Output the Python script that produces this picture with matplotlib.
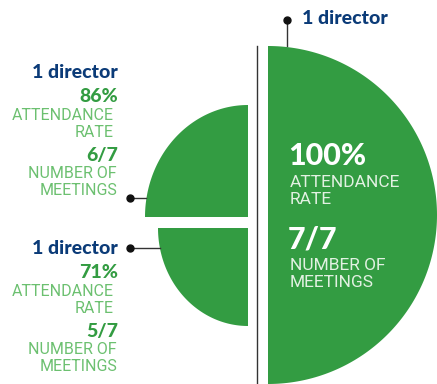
import numpy as np
import matplotlib
matplotlib.use("Agg")
import matplotlib.pyplot as plt
from matplotlib.patches import Polygon

# ---- data ----
directors = ["1 director", "1 director", "1 director"]
rates = ["100%", "86%", "71%"]
meetings = ["7/7", "6/7", "5/7"]
rate_label = "ATTENDANCE\nRATE"
meet_label = "NUMBER OF\nMEETINGS"

GREEN = "#339c42"
NAVY = "#0b3b78"
LIGHT = "#6cc070"
LINE = "#333333"

W, H = 437, 384
fig = plt.figure(figsize=(W / 100, H / 100), dpi=100)
ax = fig.add_axes([0, 0, 1, 1])
ax.set_xlim(0, W)
ax.set_ylim(H, 0)
ax.axis("off")


def ell_wedge(cx, cy, rx, ry, a0, a1, **kw):
    t = np.radians(np.linspace(a0, a1, 200))
    pts = np.column_stack([cx + rx * np.cos(t), cy - ry * np.sin(t)])
    pts = np.vstack([[cx, cy], pts])
    ax.add_patch(Polygon(pts, closed=True, lw=0, **kw))


# big semicircle (right half)
ell_wedge(268, 215, 169, 169, -90, 90, color=GREEN)
# top-left quarter
ell_wedge(248, 217, 103, 112, 90, 180, color=GREEN)
# bottom-left quarter
ell_wedge(248, 228, 90, 98, 180, 270, color=GREEN)

# vertical line
ax.plot([257, 257], [46, 384], color=LINE, lw=1.0)

# connectors
ax.plot([287, 287], [20, 46], color=LINE, lw=1.0)
ax.plot([287], [20], "o", color="#111111", ms=5)
ax.plot([130, 146], [198, 198], color=LINE, lw=1.0)
ax.plot([130], [198], "o", color="#111111", ms=5)
ax.plot([130, 160], [248, 248], color=LINE, lw=1.0)
ax.plot([130], [248], "o", color="#111111", ms=5)

BOLD = ["Lato", "DejaVu Sans"]
THIN = ["Roboto", "DejaVu Sans"]

# right group
ax.text(302, 19, directors[0], color=NAVY, fontsize=14, fontweight="black",
        family=BOLD, ha="left", va="center")
ax.text(288, 156, rates[0], color="white", fontsize=22, fontweight="black",
        family=BOLD, ha="left", va="center")
ax.text(290, 191, rate_label, color="#e2f1e2", fontsize=12.5, fontweight="normal",
        family=THIN, ha="left", va="center", linespacing=1.15)
ax.text(288, 239, meetings[0], color="white", fontsize=22, fontweight="black",
        family=BOLD, ha="left", va="center")
ax.text(290, 274, meet_label, color="#e2f1e2", fontsize=12.5, fontweight="normal",
        family=THIN, ha="left", va="center", linespacing=1.15)

# left groups
for (dy, d, r, m) in [(72, directors[1], rates[1], meetings[1]),
                      (248, directors[2], rates[2], meetings[2])]:
    ax.text(118, dy, d, color=NAVY, fontsize=14, fontweight="black",
            family=BOLD, ha="right", va="center")
    ax.text(118, dy + 24, r, color=GREEN, fontsize=14, fontweight="black",
            family=BOLD, ha="right", va="center")
    ax.text(114, dy + 52, rate_label, color=LIGHT, fontsize=11.5, fontweight="normal",
            family=THIN, ha="right", va="center", linespacing=1.15, multialignment="right")
    ax.text(118, dy + 83, m, color=GREEN, fontsize=14, fontweight="black",
            family=BOLD, ha="right", va="center")
    ax.text(117, dy + 110, meet_label, color=LIGHT, fontsize=11.5, fontweight="normal",
            family=THIN, ha="right", va="center", linespacing=1.15, multialignment="right")

fig.savefig("out.png", dpi=100)
